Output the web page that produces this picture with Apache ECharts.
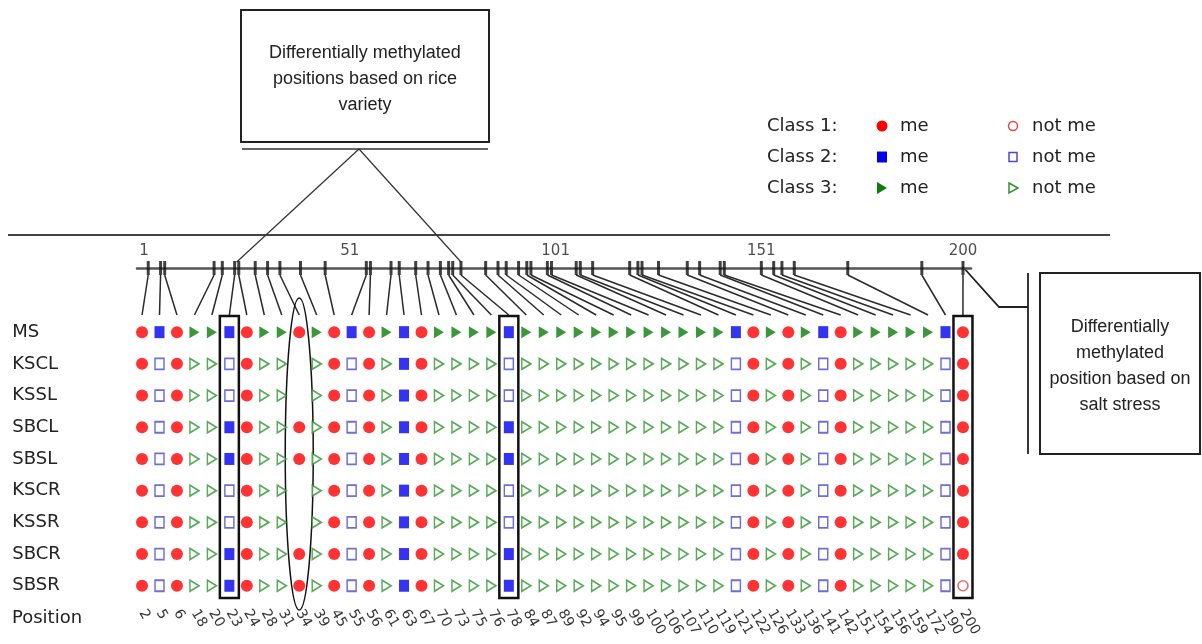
<!DOCTYPE html>
<html><head><meta charset="utf-8">
<script src="https://cdn.jsdelivr.net/npm/echarts@6/dist/echarts.min.js"></script>
<style>html,body{margin:0;padding:0;background:#fff}#c{width:1202px;height:644px}</style>
</head><body><div id="c"></div>
<script>
// ---- data ----
const positions = [2,5,6,18,20,23,24,28,31,34,39,45,55,56,61,63,67,70,73,75,76,78,84,87,89,92,94,95,99,100,106,107,110,119,121,122,126,133,136,141,142,151,154,156,159,172,190,200];
const classes = [1,2,1,3,3,2,1,3,3,1, 3,1,2,1,3,2,1,3,3,3, 3,2,3,3,3,3,3,3,3,3, 3,3,3,3,2,1,3,1,3,2, 1,3,3,3,3,3,2,1];
const rows = ['MS','KSCL','KSSL','SBCL','SBSL','KSCR','KSSR','SBCR','SBSR'];
// M = me (methylated), N = not me, . = no call
const statusMS   = 'MMMMMMMMMM MMMMMMMMMM MMMMMMMMMM MMMMMMMMMM MMMMMMMM';
const statusKSCL = 'MNMNNNMNN. NMNMNMMNNN NNNNNNNNNN NNNNNMNMNN MNNNNNNM';
const statusKSSL = 'MNMNNNMNN. NMNMNMMNNN NNNNNNNNNN NNNNNMNMNN MNNNNNNM';
const statusSBCL = 'MNMNNMMNNM NMNMNMMNNN NMNNNNNNNN NNNNNMNMNN MNNNNNNM';
const statusSBSL = 'MNMNNMMNNM NMNMNMMNNN NMNNNNNNNN NNNNNMNMNN MNNNNNNM';
const statusKSCR = 'MNMNNNMNN. NMNMNMMNNN NNNNNNNNNN NNNNNMNMNN MNNNNNNM';
const statusKSSR = 'MNMNNNMNN. NMNMNMMNNN NNNNNNNNNN NNNNNMNMNN MNNNNNNM';
const statusSBCR = 'MNMNNMMNNM NMNMNMMNNN NMNNNNNNNN NNNNNMNMNN MNNNNNNM';
const statusSBSR = 'MNMNNMMNNM NMNMNMMNNN NMNNNNNNNN NNNNNMNMNN MNNNNNNN';
const scaleLabels = [1,51,101,151,200];
const varietyCols = [23,78];
const stressCols = [200];
const ellipseCol = 34;

const statusRows = [statusMS,statusKSCL,statusKSSL,statusSBCL,statusSBSL,statusKSCR,statusKSSR,statusSBCR,statusSBSR]
  .map(s => s.replace(/ /g,'').split(''));

// ---- build series data ----
const buckets = {};
for (let c = 1; c <= 3; c++) { buckets[c+'M'] = []; buckets[c+'N'] = []; }
statusRows.forEach((st, r) => {
  st.forEach((s, i) => {
    if (s === 'M' || s === 'N') buckets[classes[i] + s].push([i, r]);
  });
});

const RED = '#ff0000', BLUE = '#0000ee', GREEN = '#0b7d0b';
const RED_O = '#e04848', BLUE_O = '#4a4ad0', GREEN_O = '#2e932e';
function ser(name, key, symbol, size, rot, fill, border) {
  return {
    name, type: 'scatter', xAxisIndex: 0, yAxisIndex: 0, data: buckets[key],
    symbol, symbolSize: size, symbolRotate: rot, silent: true,
    itemStyle: border ? {color: '#fff', borderColor: border, borderWidth: 1.6} : {color: fill}
  };
}

const chart = echarts.init(document.getElementById('c'), null, {renderer: 'canvas'});
const option = {
  animation: false,
  backgroundColor: '#fff',
  grid: [
    {left: 133.3, width: 838.4, top: 316.3, height: 285.3},
    {left: 137, width: 834, top: 258, height: 10}
  ],
  xAxis: [
    {type: 'category', gridIndex: 0, data: positions.map(String), boundaryGap: true,
     axisLine: {show: false}, axisTick: {show: false}, splitLine: {show: false},
     axisLabel: {interval: 0, rotate: -60, margin: 9, fontSize: 14, color: '#333', fontFamily: 'DejaVu Sans'}},
    {type: 'value', gridIndex: 1, min: -0.73, max: 201.95,
     axisLine: {show: true, onZero: false, lineStyle: {color: '#555', width: 2.5}},
     axisTick: {show: false}, axisLabel: {show: false}, splitLine: {show: false}}
  ],
  yAxis: [
    {type: 'category', gridIndex: 0, data: rows, inverse: true,
     axisLine: {show: false}, axisTick: {show: false}, splitLine: {show: false},
     axisLabel: {align: 'left', margin: 121, fontSize: 18, color: '#222', fontFamily: 'DejaVu Sans'}},
    {type: 'value', gridIndex: 1, min: 0, max: 1, show: false}
  ],
  series: [
    ser('Class 1 me', '1M', 'circle', 12, 0, RED),
    ser('Class 1 not me', '1N', 'circle', 10, 0, null, RED_O),
    ser('Class 2 me', '2M', 'rect', [10, 12], 0, BLUE),
    ser('Class 2 not me', '2N', 'rect', [9, 11], 0, null, BLUE_O),
    ser('Class 3 me', '3M', 'triangle', [12, 10], -90, GREEN),
    ser('Class 3 not me', '3N', 'triangle', [11, 9], -90, null, GREEN_O),
    {name: 'ticks', type: 'scatter', xAxisIndex: 1, yAxisIndex: 1, silent: true,
     data: positions.map(p => [p, 0]), symbol: 'rect', symbolSize: [3, 14],
     itemStyle: {color: '#111'}},
    {name: 'scale labels', type: 'scatter', xAxisIndex: 1, yAxisIndex: 1, silent: true,
     data: scaleLabels.map(p => [p, 0]), symbolSize: 1, itemStyle: {color: 'rgba(0,0,0,0)'},
     label: {show: true, position: 'top', distance: 9, formatter: p => String(p.value[0]),
             fontSize: 15, color: '#222', fontFamily: 'DejaVu Sans'}}
  ]
};
chart.setOption(option);

// ---- annotations positioned via the chart's own scales ----
const colX = i => chart.convertToPixel({gridIndex: 0}, [i, 0])[0];
const tickX = p => chart.convertToPixel({gridIndex: 1}, [p, 0])[0];
const g = [];
const line = (x1, y1, x2, y2, w, c) => g.push({type: 'line', shape: {x1, y1, x2, y2}, style: {stroke: c || '#222', lineWidth: w || 1.5}, silent: true});

// separator
line(8, 235, 1110, 235, 2, '#444');
// connectors tick -> column
positions.forEach((p, i) => line(tickX(p), 275, colX(i), 315, 1.5, '#2a2a2a'));
// boxes around columns
[...varietyCols, ...stressCols].forEach(p => {
  const x = colX(positions.indexOf(p));
  g.push({type: 'rect', shape: {x: x - 9.5, y: 316, width: 19, height: 282},
          style: {fill: 'none', stroke: '#111', lineWidth: 2.5}, silent: true});
});
// ellipse
g.push({type: 'ellipse', shape: {cx: colX(positions.indexOf(ellipseCol)), cy: 454, rx: 14, ry: 156},
        style: {fill: 'none', stroke: '#111', lineWidth: 1.5}, silent: true});

// top annotation box
g.push({type: 'rect', shape: {x: 241, y: 10, width: 248, height: 132},
        style: {fill: '#fff', stroke: '#222', lineWidth: 2}, silent: true});
g.push({type: 'text', x: 365, y: 79, silent: true,
        style: {text: 'Differentially methylated\npositions based on rice\nvariety', align: 'center', verticalAlign: 'middle',
                font: '18px "Liberation Sans Narrow", "Liberation Sans", Arial, sans-serif', lineHeight: 26, fill: '#222'}});
line(242, 149, 488, 149, 1.5, '#333');
line(359, 149, (tickX(varietyCols[0]) + tickX(varietyCols[0] + 1)) / 2, 262, 1.2, '#333');
line(359, 149, tickX(varietyCols[1]), 262, 1.2, '#333');

// right annotation
const t200 = tickX(stressCols[0]);
g.push({type: 'polyline', shape: {points: [[t200, 267], [999, 307], [1028, 307]]},
        style: {fill: 'none', stroke: '#222', lineWidth: 1.8}, silent: true});
line(1028, 273, 1028, 454, 1.8, '#222');
g.push({type: 'rect', shape: {x: 1040, y: 273, width: 160, height: 181},
        style: {fill: '#fff', stroke: '#222', lineWidth: 2}, silent: true});
g.push({type: 'text', x: 1120, y: 366, silent: true,
        style: {text: 'Differentially\nmethylated\nposition based on\nsalt stress', align: 'center', verticalAlign: 'middle',
                font: '18px "Liberation Sans Narrow", "Liberation Sans", Arial, sans-serif', lineHeight: 26, fill: '#222'}});

// "Position" row label
g.push({type: 'text', x: 12, y: 618, silent: true,
        style: {text: 'Position', align: 'left', verticalAlign: 'middle', font: '18px "DejaVu Sans"', fill: '#222'}});

// legend
const legY = [126, 157, 188];
const legFont = '18px "DejaVu Sans"';
['Class 1:', 'Class 2:', 'Class 3:'].forEach((t, k) => {
  const y = legY[k];
  g.push({type: 'text', x: 767, y, silent: true, style: {text: t, verticalAlign: 'middle', font: legFont, fill: '#222'}});
  g.push({type: 'text', x: 900, y, silent: true, style: {text: 'me', verticalAlign: 'middle', font: legFont, fill: '#222'}});
  g.push({type: 'text', x: 1032, y, silent: true, style: {text: 'not me', verticalAlign: 'middle', font: legFont, fill: '#222'}});
});
g.push({type: 'circle', shape: {cx: 882, cy: legY[0], r: 5.5}, style: {fill: RED}, silent: true});
g.push({type: 'circle', shape: {cx: 1013, cy: legY[0], r: 4.5}, style: {fill: '#fff', stroke: RED_O, lineWidth: 1.5}, silent: true});
g.push({type: 'rect', shape: {x: 877, y: legY[1] - 5.5, width: 10, height: 11}, style: {fill: BLUE}, silent: true});
g.push({type: 'rect', shape: {x: 1009, y: legY[1] - 4.5, width: 8, height: 9}, style: {fill: '#fff', stroke: BLUE_O, lineWidth: 1.5}, silent: true});
g.push({type: 'polygon', shape: {points: [[877, legY[2] - 6], [887, legY[2]], [877, legY[2] + 6]]}, style: {fill: GREEN}, silent: true});
g.push({type: 'polygon', shape: {points: [[1009, legY[2] - 5], [1018, legY[2]], [1009, legY[2] + 5]]}, style: {fill: '#fff', stroke: GREEN_O, lineWidth: 1.5}, silent: true});

chart.setOption({graphic: g});
</script></body></html>
